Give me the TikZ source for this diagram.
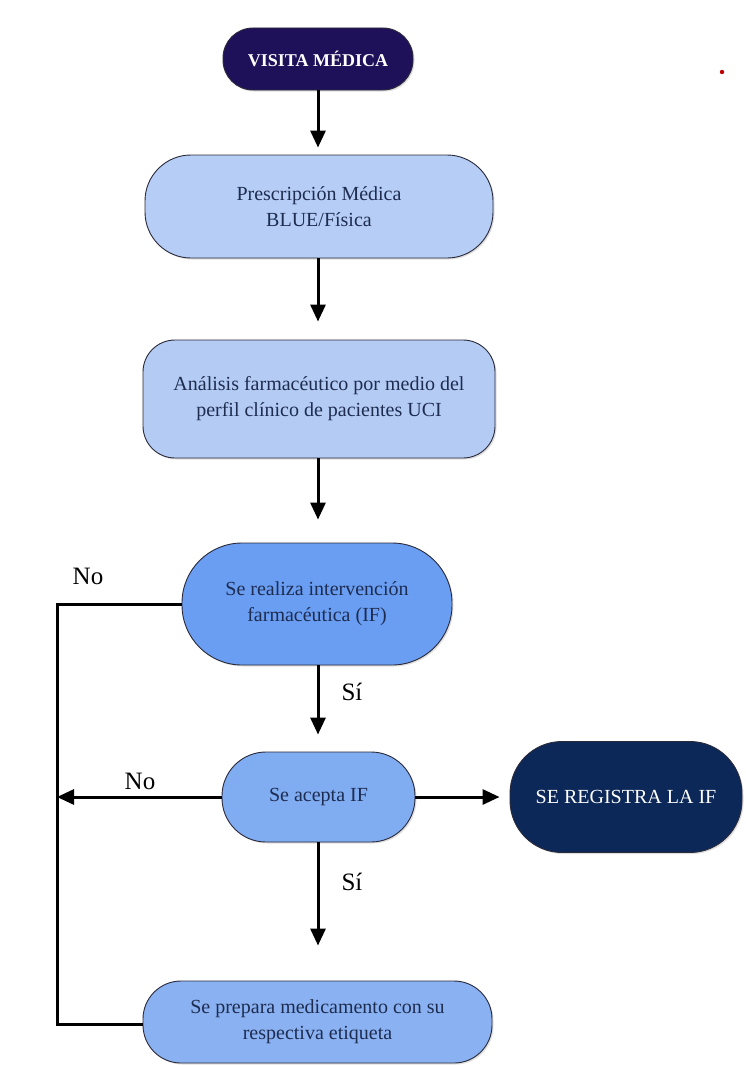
\documentclass[tikz,border=0pt]{standalone}
\usepackage{fontspec}
\setmainfont{Liberation Serif}
\usetikzlibrary{arrows.meta,shadows}
\definecolor{navyA}{HTML}{1F105A}
\definecolor{navyB}{HTML}{0C2858}
\definecolor{lightA}{HTML}{B6CEF6}
\definecolor{lightB}{HTML}{B4CCF4}
\definecolor{midA}{HTML}{6A9EF2}
\definecolor{midB}{HTML}{80ACF2}
\definecolor{midC}{HTML}{8AB2F2}
\definecolor{txtdark}{HTML}{1E2C50}
\definecolor{edge}{HTML}{2A2A3A}
\tikzset{
  flowbox/.style={draw=edge, line width=0.9pt, align=center, inner sep=2pt,
    text=txtdark, font=\fontsize{20}{26}\selectfont,
    drop shadow={shadow xshift=1.5pt, shadow yshift=-1.5pt, opacity=0.25}},
  darkbox/.style={flowbox, text=white},
  arr/.style={line width=3pt, -{Triangle[width=15pt,length=17pt]}},
  plain/.style={line width=3pt},
  lbl/.style={font=\fontsize{25}{30}\selectfont, text=black}
}
\begin{document}
\begin{tikzpicture}[x=1pt,y=-1pt]
\useasboundingbox (0,0) rectangle (745,1065);
\fill[white] (0,0) rectangle (745,1065);

\node[darkbox, fill=navyA, minimum width=190pt, minimum height=62pt, rounded corners=30pt,
  font=\bfseries\fontsize{18}{22}\selectfont] (visita) at (318,59) {VISITA MÉDICA};

\node[flowbox, fill=lightA, minimum width=348pt, minimum height=103pt, rounded corners=46pt]
  (presc) at (319,206.5) {Prescripción Médica\\BLUE/Física};

\node[flowbox, fill=lightB, minimum width=352pt, minimum height=118pt, rounded corners=32pt]
  (anal) at (319,399) {Análisis farmacéutico por medio del\\perfil clínico de pacientes UCI};

\node[flowbox, fill=midA, minimum width=270pt, minimum height=122pt, rounded corners=60pt]
  (realiza) at (317,604) {Se realiza intervención\\farmacéutica (IF)};

\node[flowbox, fill=midB, minimum width=193pt, minimum height=90pt, rounded corners=44pt]
  (acepta) at (318.5,797) {Se acepta IF};

\node[darkbox, fill=navyB, minimum width=232pt, minimum height=111pt, rounded corners=52pt]
  (registra) at (626,797) {SE REGISTRA LA IF};

\node[flowbox, fill=midC, minimum width=349pt, minimum height=82pt, rounded corners=38pt]
  (prepara) at (317.5,1022) {Se prepara medicamento con su\\respectiva etiqueta};

% vertical flow
\draw[arr, shorten >=7pt] (visita.south) -- (visita.south |- presc.north);
\draw[arr, shorten >=18pt] (visita.south |- presc.south) -- (visita.south |- anal.north);
\draw[arr, shorten >=23pt] (visita.south |- anal.south) -- (visita.south |- realiza.north);
\draw[arr, shorten >=17pt] (visita.south |- realiza.south) -- (visita.south |- acepta.north);
\draw[arr, shorten >=35pt] (visita.south |- acepta.south) -- (visita.south |- prepara.north);
\draw[arr, shorten >=10pt] (acepta.east) -- (registra.west);

% left loop
\coordinate (lefttop) at (57,604);
\coordinate (leftbot) at (57,1024);
\draw[plain] (realiza.west) -- (lefttop) -- (leftbot) -- (prepara.west |- leftbot);
\draw[arr] (acepta.west) -- (acepta.west -| lefttop);

% labels
\node[lbl] (no1) at (88,576) {No};
\node[lbl] (si1) at (352,692) {Sí};
\node[lbl] (no2) at (140,781) {No};
\node[lbl] (si2) at (352,882) {Sí};

% small red dot
\fill[red!75!black] (722,72) circle (2.2pt);
\end{tikzpicture}
\end{document}
